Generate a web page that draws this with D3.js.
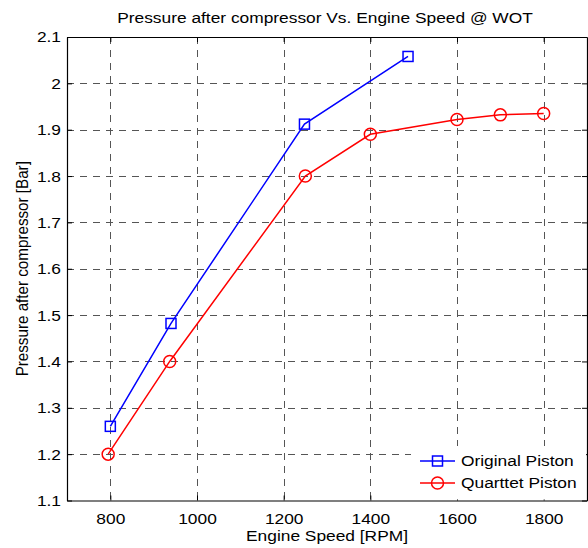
<!DOCTYPE html>
<html>
<head>
<meta charset="utf-8">
<script src="https://cdn.jsdelivr.net/npm/d3@7/dist/d3.min.js"></script>
<style>
  html, body { margin: 0; padding: 0; background: #fff; }
  svg { display: block; }
  text { font-family: "Liberation Sans", Arial, sans-serif; fill: #000; }
</style>
</head>
<body>
<svg id="chart" width="588" height="548"></svg>
<script>
const title = "Pressure after compressor Vs. Engine Speed @ WOT";
const xLabel = "Engine Speed [RPM]";
const yLabel = "Pressure after compressor [Bar]";
const xTicks = [800, 1000, 1200, 1400, 1600, 1800];
const yTicks = [1.1, 1.2, 1.3, 1.4, 1.5, 1.6, 1.7, 1.8, 1.9, 2, 2.1];
const originalRPM = [800, 940, 1248, 1487];
const originalBar = [1.26, 1.482, 1.912, 2.058];
const quarttetRPM = [795, 937, 1250, 1400, 1600, 1700, 1800];
const quarttetBar = [1.2, 1.4, 1.8, 1.89, 1.922, 1.932, 1.935];
const seriesNames = ["Original Piston", "Quarttet Piston"];

const svg = d3.select("#chart");
const L = 67, R = 587, T = 37, B = 500.5;
const x = d3.scaleLinear().domain([700, 1900]).range([L, R]);
const y = d3.scaleLinear().domain([1.1, 2.1]).range([B, T]);
const fs = 15.5, sx = 1.12;

// place horizontally-stretched text at (px,py)
function stext(g, px, py, str, anchor) {
  return g.append("text")
    .attr("transform", `translate(${px},${py}) scale(${sx},1)`)
    .attr("text-anchor", anchor || "start")
    .attr("font-size", fs).text(str);
}

// grid
const grid = svg.append("g").attr("stroke", "#555").attr("stroke-width", 1).attr("stroke-dasharray", "7,6");
grid.selectAll(".vx").data(xTicks).enter().append("line")
  .attr("x1", d => Math.round(x(d)) + 0.5).attr("x2", d => Math.round(x(d)) + 0.5)
  .attr("y1", T).attr("y2", B);
grid.selectAll(".hy").data(yTicks.slice(1, -1)).enter().append("line")
  .attr("y1", d => Math.round(y(d)) + 0.5).attr("y2", d => Math.round(y(d)) + 0.5)
  .attr("x1", L).attr("x2", R);

// axes (inward ticks)
const axB = svg.append("g").attr("transform", `translate(0,${B})`)
  .call(d3.axisBottom(x).tickValues(xTicks).tickSizeInner(-5).tickSizeOuter(0).tickPadding(12).tickFormat(d3.format("d")));
const axT = svg.append("g").attr("transform", `translate(0,${T})`)
  .call(d3.axisTop(x).tickValues(xTicks).tickSizeInner(-5).tickSizeOuter(0).tickFormat(""));
const axL = svg.append("g").attr("transform", `translate(${L},0)`)
  .call(d3.axisLeft(y).tickValues(yTicks).tickSizeInner(-5).tickSizeOuter(0).tickPadding(6).tickFormat(d => d3.format("")(d)));
const axR = svg.append("g").attr("transform", `translate(${R},0)`)
  .call(d3.axisRight(y).tickValues(yTicks).tickSizeInner(-5).tickSizeOuter(0).tickFormat(""));
[axB, axT, axL, axR].forEach(a => {
  a.selectAll("path").attr("stroke", "#000").attr("stroke-width", 1.2);
  a.selectAll("line").attr("stroke", "#000");
  a.selectAll("text").attr("font-size", fs).attr("font-family", "Liberation Sans, Arial, sans-serif").attr("fill", "#000");
});
axB.selectAll("text").attr("dy", "0.71em").attr("transform", `scale(${sx},1)`);
axL.selectAll("text").each(function() {
  const t = d3.select(this);
  const xx = +t.attr("x");
  t.attr("x", xx / sx).attr("transform", `scale(${sx},1)`);
});

// lines
const line = d3.line().x(d => x(d[0])).y(d => y(d[1]));
const orig = originalRPM.map((r, i) => [r, originalBar[i]]);
const quar = quarttetRPM.map((r, i) => [r, quarttetBar[i]]);
svg.append("path").datum(orig).attr("d", line).attr("fill", "none").attr("stroke", "#0000ff").attr("stroke-width", 1.5);
svg.append("path").datum(quar).attr("d", line).attr("fill", "none").attr("stroke", "#ff0000").attr("stroke-width", 1.5);
svg.selectAll(".sq").data(orig).enter().append("rect")
  .attr("x", d => x(d[0]) - 5).attr("y", d => y(d[1]) - 5).attr("width", 10).attr("height", 10)
  .attr("fill", "none").attr("stroke", "#0000ff").attr("stroke-width", 1.5);
svg.selectAll(".ci").data(quar).enter().append("circle")
  .attr("cx", d => x(d[0])).attr("cy", d => y(d[1])).attr("r", 6)
  .attr("fill", "none").attr("stroke", "#ff0000").attr("stroke-width", 1.5);

// legend
const lg = svg.append("g");
lg.append("rect").attr("x", 411).attr("y", 446).attr("width", R - 411 - 1).attr("height", B - 446 - 1).attr("fill", "#fff");
const rows = [{name: seriesNames[0], c: "#0000ff", m: "sq", yy: 461}, {name: seriesNames[1], c: "#ff0000", m: "ci", yy: 483}];
rows.forEach(r => {
  lg.append("line").attr("x1", 420).attr("x2", 455).attr("y1", r.yy).attr("y2", r.yy).attr("stroke", r.c).attr("stroke-width", 1.5);
  if (r.m === "sq") lg.append("rect").attr("x", 432.5).attr("y", r.yy - 5).attr("width", 10).attr("height", 10).attr("fill", "none").attr("stroke", r.c).attr("stroke-width", 1.5);
  else lg.append("circle").attr("cx", 437.5).attr("cy", r.yy).attr("r", 6).attr("fill", "none").attr("stroke", r.c).attr("stroke-width", 1.5);
  stext(lg, 461, r.yy, r.name).attr("dy", "0.35em");
});

// titles
stext(svg, 325, 23, title, "middle");
stext(svg, 327, 541, xLabel, "middle");
svg.append("text").attr("transform", `translate(28,${(T + B) / 2}) rotate(-90) scale(1,${sx})`)
  .attr("text-anchor", "middle").attr("font-size", fs - 0.3).text(yLabel);
</script>
</body>
</html>
